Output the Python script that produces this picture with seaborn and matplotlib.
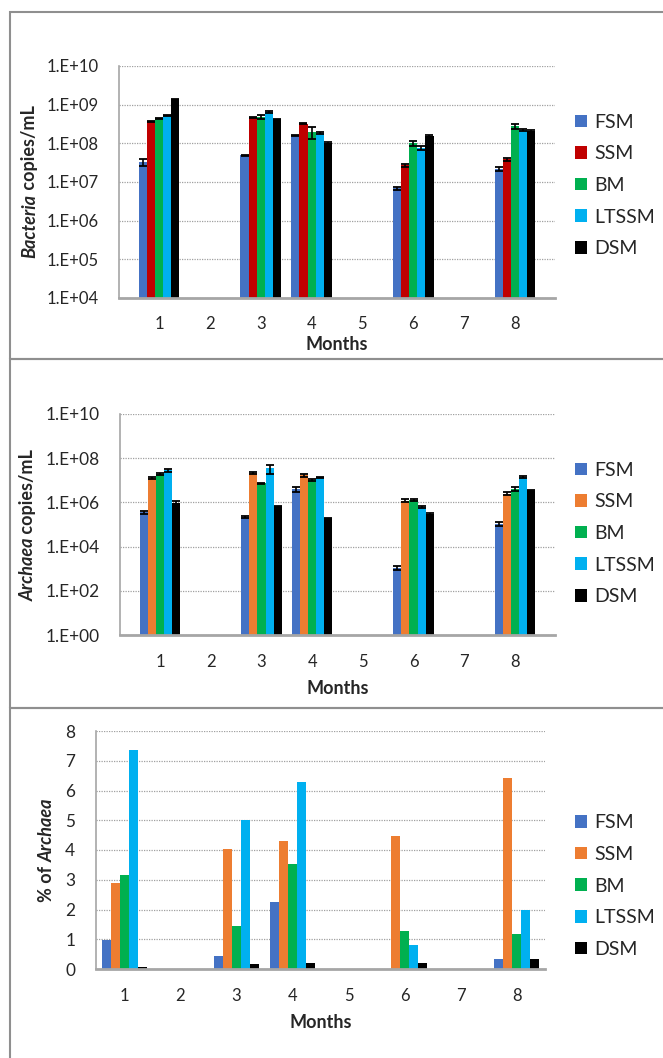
import numpy as np
import pandas as pd
import matplotlib
matplotlib.use("Agg")
import matplotlib.pyplot as plt
from matplotlib.patches import Rectangle
from matplotlib.ticker import FixedLocator, FixedFormatter, NullLocator
import seaborn as sns

# categorias
months = ["1", "2", "3", "4", "5", "6", "7", "8"]
sampled = ["1", "3", "4", "6", "8"]
groups = ["FSM", "SSM", "BM", "LTSSM", "DSM"]

# Bacteria copies/mL (meses 1, 3, 4, 6, 8)
bac_fsm = [3.3e7, 4.9e7, 1.6e8, 6.8e6, 2.2e7]
bac_ssm = [3.6e8, 4.7e8, 3.2e8, 2.7e7, 3.9e7]
bac_bm = [4.4e8, 4.9e8, 2.0e8, 1.0e8, 2.8e8]
bac_ltssm = [5.1e8, 6.5e8, 1.85e8, 7.5e7, 2.2e8]
bac_dsm = [1.37e9, 4.2e8, 1.0e8, 1.55e8, 2.1e8]

bac_fsm_err = [7e6, 2e6, 8e6, 7e5, 3e6]
bac_ssm_err = [1e7, 1.5e7, 1e7, 2.5e6, 4e6]
bac_bm_err = [1.5e7, 6e7, 7e7, 1.5e7, 4.5e7]
bac_ltssm_err = [1.5e7, 4e7, 8e6, 8e6, 8e6]
bac_dsm_err = [2e7, 1e7, 8e6, 5e6, 8e6]

# Archaea copies/mL
arc_fsm = [3.5e5, 2.2e5, 4.1e6, 1.1e3, 1.1e5]
arc_ssm = [1.3e7, 2.1e7, 1.7e7, 1.2e6, 2.5e6]
arc_bm = [1.9e7, 7.2e6, 1.0e7, 1.3e6, 4.1e6]
arc_ltssm = [2.9e7, 3.5e7, 1.3e7, 6.2e5, 1.4e7]
arc_dsm = [9e5, 6.5e5, 1.8e5, 3.0e5, 3.4e6]

arc_fsm_err = [6e4, 2e4, 1e6, 2.7e2, 2.2e4]
arc_ssm_err = [1e6, 2e6, 2.5e6, 2e5, 4e5]
arc_bm_err = [2e6, 3e5, 1e6, 2e5, 8e5]
arc_ltssm_err = [5e6, 1.5e7, 8e5, 5e4, 1.5e6]
arc_dsm_err = [2.5e5, 3e4, 1e4, 3e4, 2e5]

# % de Archaea
pct_fsm = [0.98, 0.45, 2.24, 0.0, 0.33]
pct_ssm = [2.88, 4.04, 4.31, 4.46, 6.43]
pct_bm = [3.16, 1.45, 3.52, 1.28, 1.19]
pct_ltssm = [7.37, 5.0, 6.30, 0.81, 1.99]
pct_dsm = [0.08, 0.17, 0.19, 0.20, 0.34]

log_ticks = [1e4, 1e5, 1e6, 1e7, 1e8, 1e9, 1e10]
log_labels = ["1.E+04", "1.E+05", "1.E+06", "1.E+07", "1.E+08", "1.E+09", "1.E+10"]
arc_ticks = [1e0, 1e2, 1e4, 1e6, 1e8, 1e10]
arc_labels = ["1.E+00", "1.E+02", "1.E+04", "1.E+06", "1.E+08", "1.E+10"]
pct_ticks = [0, 1, 2, 3, 4, 5, 6, 7, 8]


def tabla(vals, errs=None):
    filas = []
    for i, g in enumerate(groups):
        for j, m in enumerate(sampled):
            e = errs[i][j] if errs is not None else 0.0
            filas.append({"Month": m, "Group": g, "value": vals[i][j], "err": e})
    return pd.DataFrame(filas)


df_bac = tabla([bac_fsm, bac_ssm, bac_bm, bac_ltssm, bac_dsm],
               [bac_fsm_err, bac_ssm_err, bac_bm_err, bac_ltssm_err, bac_dsm_err])
df_arc = tabla([arc_fsm, arc_ssm, arc_bm, arc_ltssm, arc_dsm],
               [arc_fsm_err, arc_ssm_err, arc_bm_err, arc_ltssm_err, arc_dsm_err])
df_pct = tabla([pct_fsm, pct_ssm, pct_bm, pct_ltssm, pct_dsm])

pal_red = {"FSM": "#4472C4", "SSM": "#C00000", "BM": "#00B050", "LTSSM": "#00B0F0", "DSM": "#000000"}
pal_orange = {"FSM": "#4472C4", "SSM": "#ED7D31", "BM": "#00B050", "LTSSM": "#00B0F0", "DSM": "#000000"}

sns.set_style("white")
plt.rcParams["font.family"] = ["Lato", "DejaVu Sans"]

W, H = 663, 1058
fig = plt.figure(figsize=(W / 100, H / 100), dpi=100)
renderer = fig.canvas.get_renderer()


def px_axes(left, right, top, bottom):
    return fig.add_axes([left / W, 1 - bottom / H, (right - left) / W, (bottom - top) / H])


def ylabel_mixto(partes, x_px, yc_px, size=13):
    # etiqueta vertical con trozos en cursiva y normal (todo en negrita)
    textos = []
    for txt, estilo in partes:
        t = fig.text(0, 0, txt, rotation=90, rotation_mode="anchor", ha="left", va="center",
                     fontsize=size, fontweight="bold", fontstyle=estilo)
        textos.append(t)
    largos = [t.get_window_extent(renderer).height for t in textos]
    y = (H - yc_px) - sum(largos) / 2
    for t, L in zip(textos, largos):
        t.set_position((x_px / W, y / H))
        y += L


def panel(ax, df, pal, ticksize, ypad, xpad, mpad, errbars, leg_y):
    sns.barplot(data=df, x="Month", y="value", hue="Group", order=months,
                hue_order=groups, palette=pal, saturation=1, errorbar=None,
                width=0.8, linewidth=0, ax=ax)
    if errbars:
        for g, cont in zip(groups, ax.containers):
            sub = df[df["Group"] == g].set_index("Month")
            for bar in cont:
                xc = bar.get_x() + bar.get_width() / 2
                m = months[int(round(xc))]
                ax.errorbar(xc, bar.get_height(), yerr=sub.loc[m, "err"], fmt="none",
                            ecolor="black", elinewidth=1.2, capsize=3, capthick=1.3, zorder=5)
    ax.set_axisbelow(True)
    ax.grid(axis="y", which="major", color="#a0a0a0", linestyle=(0, (1, 1)), linewidth=0.9)
    for s in ["top", "right"]:
        ax.spines[s].set_visible(False)
    ax.spines["left"].set_color("#a6a6a6")
    ax.spines["left"].set_linewidth(1.2)
    ax.spines["bottom"].set_color("#a6a6a6")
    ax.spines["bottom"].set_linewidth(2)
    ax.tick_params(axis="y", length=0, labelsize=ticksize, pad=ypad)
    ax.tick_params(axis="x", length=0, labelsize=12, pad=xpad)
    ax.set_xlabel("Months", fontsize=13, fontweight="bold", labelpad=mpad)
    ax.set_ylabel("")
    ax.legend(title=None, loc="center left", bbox_to_anchor=(575 / W, 1 - leg_y / H),
              bbox_transform=fig.transFigure, frameon=False, fontsize=14,
              handlelength=0.62, handleheight=0.62, handletextpad=0.35,
              labelspacing=0.75, borderpad=0, borderaxespad=0)


# panel 1: Bacteria
ax1 = px_axes(119, 555, 66, 298)
panel(ax1, df_bac, pal_red, 12, 14.4, 13, 3, True, 185.5)
ax1.set_yscale("log")
ax1.set_ylim(1e4, 1e10)
ax1.yaxis.set_major_locator(FixedLocator(log_ticks))
ax1.yaxis.set_major_formatter(FixedFormatter(log_labels))
ax1.yaxis.set_minor_locator(NullLocator())
ylabel_mixto([("Bacteria", "italic"), (" copies/mL", "normal")], 30, 182)

# panel 2: Archaea
ax2 = px_axes(120, 555, 414, 635)
panel(ax2, df_arc, pal_orange, 12.4, 14.8, 13.7, 7, True, 533.5)
ax2.set_yscale("log")
ax2.set_ylim(1e0, 1e10)
ax2.yaxis.set_major_locator(FixedLocator(arc_ticks))
ax2.yaxis.set_major_formatter(FixedFormatter(arc_labels))
ax2.yaxis.set_minor_locator(NullLocator())
ylabel_mixto([("Archaea", "italic"), (" copies/mL", "normal")], 28, 525)

# panel 3: % Archaea
ax3 = px_axes(96, 545, 731, 969)
panel(ax3, df_pct, pal_orange, 12.4, 15, 14, 7, False, 886)
ax3.set_ylim(0, 8)
ax3.set_yticks(pct_ticks)
ylabel_mixto([("% of ", "normal"), ("Archaea", "italic")], 47, 850)

# marcos grises de cada panel
for top, bottom in [(12, 359), (359, 707.5), (708, 1070)]:
    fig.patches.append(Rectangle((9.5 / W, 1 - bottom / H), 1.0, (bottom - top) / H,
                                 transform=fig.transFigure, fill=False,
                                 edgecolor="#8f8f8f", linewidth=1.5))

fig.savefig("out.png", dpi=100)
